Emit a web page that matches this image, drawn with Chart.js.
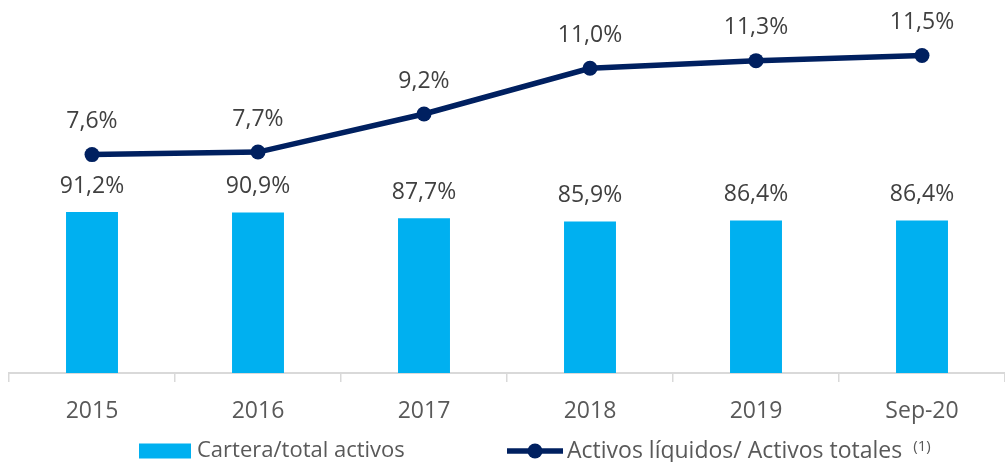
<!DOCTYPE html>
<html>
<head>
<meta charset="utf-8">
<script src="https://cdn.jsdelivr.net/npm/chart.js@4.4.1/dist/chart.umd.min.js"></script>
<style>
  html, body { margin: 0; padding: 0; background: #fff; }
  #wrap { width: 1005px; height: 462px; }
</style>
</head>
<body>
<div id="wrap"><canvas id="myChart"></canvas></div>
<script>
// categorias (anios)
const categorias = ['2015', '2016', '2017', '2018', '2019', 'Sep-20']
// cartera / total activos (%)
const cartera = [91.2, 90.9, 87.7, 85.9, 86.4, 86.4]
// activos liquidos / activos totales (%)
const liquidos = [7.6, 7.7, 9.2, 11.0, 11.3, 11.5]

const labelBarra = 'Cartera/total activos'
const labelLinea = 'Activos líquidos/ Activos totales'
const nota = '(1)'

const fuente = '"Open Sans", "Noto Sans", sans-serif'

function formato(v) {
  return v.toFixed(1).replace('.', ',') + '%'
}

// etiquetas de datos sobre barras y puntos
const etiquetas = {
  id: 'etiquetas',
  afterDatasetsDraw(chart) {
    const ctx = chart.ctx
    ctx.save()
    ctx.font = '23px ' + fuente
    ctx.fillStyle = '#404040'
    ctx.textAlign = 'center'
    ctx.textBaseline = 'middle'
    chart.data.datasets.forEach((ds, i) => {
      const meta = chart.getDatasetMeta(i)
      const off = ds.type == 'line' ? 33 : 26
      meta.data.forEach((el, j) => {
        ctx.fillText(formato(ds.data[j]), el.x, el.y - off)
      })
    })
    ctx.restore()
  }
}

// leyenda abajo
const leyenda = {
  id: 'leyenda',
  afterDraw(chart) {
    const ctx = chart.ctx
    const y = 451
    ctx.save()
    ctx.fillStyle = '#00b0f0'
    ctx.fillRect(139, y - 7.5, 52, 15)
    ctx.font = '22px ' + fuente
    ctx.fillStyle = '#595959'
    ctx.textAlign = 'left'
    ctx.textBaseline = 'middle'
    ctx.fillText(labelBarra, 197, y)

    ctx.strokeStyle = '#002060'
    ctx.lineWidth = 5.5
    ctx.beginPath()
    ctx.moveTo(507, y)
    ctx.lineTo(563, y)
    ctx.stroke()
    ctx.fillStyle = '#002060'
    ctx.beginPath()
    ctx.arc(535, y, 7.5, 0, Math.PI * 2)
    ctx.fill()

    ctx.fillStyle = '#595959'
    ctx.font = '23px ' + fuente
    ctx.fillText(labelLinea, 567, y)
    const w = ctx.measureText(labelLinea).width
    ctx.font = '15px ' + fuente
    ctx.fillText(nota, 567 + w + 11, y - 4)
    ctx.restore()
  }
}

new Chart('myChart', {
  data: {
    labels: categorias,
    datasets: [
      {
        type: 'line',
        label: labelLinea,
        data: liquidos,
        yAxisID: 'y2',
        borderColor: '#002060',
        backgroundColor: '#002060',
        borderWidth: 5.5,
        pointRadius: 7.5,
        pointBackgroundColor: '#002060',
        pointBorderWidth: 0,
        order: 0
      },
      {
        type: 'bar',
        label: labelBarra,
        data: cartera,
        yAxisID: 'y',
        backgroundColor: '#00b0f0',
        categoryPercentage: 1,
        barPercentage: 0.313,
        order: 1
      }
    ]
  },
  options: {
    responsive: true,
    maintainAspectRatio: false,
    animation: false,
    layout: { autoPadding: false, padding: { top: 20, left: 9, right: -4, bottom: 0 } },
    plugins: {
      legend: { display: false },
      tooltip: { enabled: false }
    },
    scales: {
      x: {
        offset: true,
        grid: {
          offset: true,
          drawOnChartArea: false,
          drawTicks: true,
          tickLength: 9,
          color: '#d9d9d9',
          lineWidth: 1.5
        },
        border: { color: '#d9d9d9', width: 2 },
        ticks: {
          color: '#595959',
          font: { family: fuente, size: 23 },
          padding: 16
        },
        afterFit(scale) {
          scale.height = 89
          scale.paddingLeft = 0
          scale.paddingRight = 0
        }
      },
      y: { display: false, min: 0, max: 200 },
      y2: { display: false, position: 'right', min: -1.0, max: 12.9 }
    }
  },
  plugins: [etiquetas, leyenda]
})
</script>
</body>
</html>
